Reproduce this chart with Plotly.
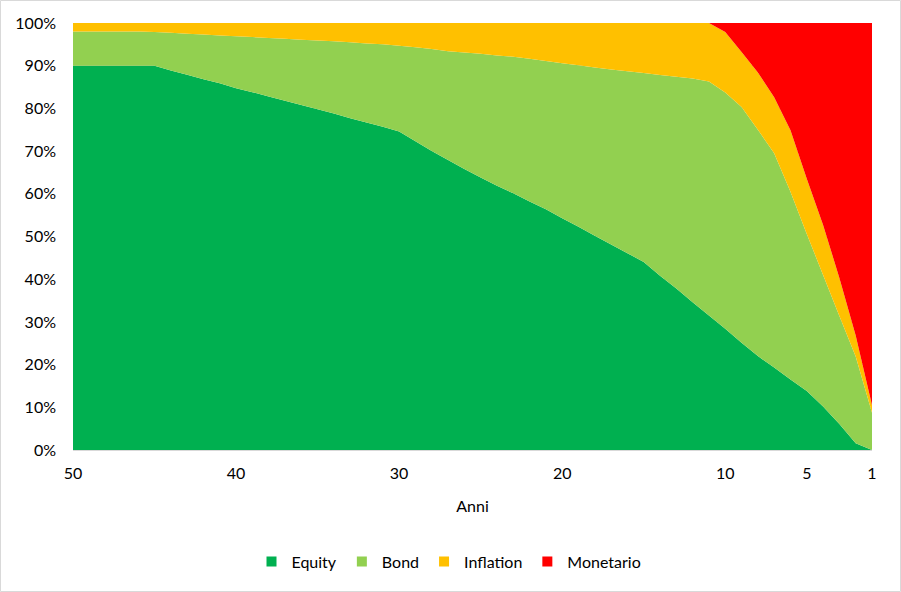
import plotly.graph_objects as go

years = list(range(50, 0, -1))

equity = [90, 90, 90, 90, 90, 90, 88.9, 87.9, 86.8, 85.9,
          84.7, 83.8, 82.8, 81.8, 80.8, 79.8, 78.8, 77.7, 76.7, 75.7,
          74.6, 72.3, 70.0, 67.9, 65.8, 63.8, 61.9, 60.1, 58.2, 56.4,
          54.3, 52.3, 50.2, 48.1, 46.1, 44.0, 40.8, 37.8, 34.6, 31.5,
          28.4, 25.1, 22.0, 19.3, 16.5, 13.8, 10.2, 6.1, 1.6, 0]

bond = [8, 8, 8, 8, 8, 7.9, 8.8, 9.6, 10.5, 11.2,
        12.2, 12.9, 13.7, 14.5, 15.3, 16.1, 16.9, 17.8, 18.5, 19.3,
        20.1, 22.0, 23.9, 25.5, 27.3, 29.0, 30.5, 32.0, 33.4, 34.7,
        36.3, 37.8, 39.4, 41.0, 42.6, 44.3, 47.0, 49.6, 52.4, 54.8,
        55.3, 55.2, 53.0, 50.2, 44.0, 36.8, 30.8, 25.3, 20.3, 8.7]

inflation = [2, 2, 2, 2, 2, 2.1, 2.3, 2.5, 2.7, 2.9,
             3.1, 3.3, 3.5, 3.7, 3.9, 4.1, 4.3, 4.5, 4.8, 5.0,
             5.3, 5.7, 6.1, 6.6, 6.9, 7.2, 7.6, 7.9, 8.4, 8.9,
             9.4, 9.9, 10.4, 10.9, 11.3, 11.7, 12.2, 12.6, 13.0, 13.7,
             14.2, 12.9, 13.4, 13.1, 14.4, 12.9, 11.7, 8.9, 4.9, 1.8]

monetario = [0] * 40 + [2.1, 6.8, 11.6, 17.4, 25.1, 36.5, 47.3, 59.7, 73.2, 89.5]

series_names = ["Equity", "Bond", "Inflation", "Monetario"]
series_colors = ["#00B050", "#92D050", "#FFC000", "#FF0000"]
series_values = [equity, bond, inflation, monetario]

x_ticks = [50, 40, 30, 20, 10, 5, 1]
y_ticks = list(range(0, 101, 10))

FONT = "Lato"
fig = go.Figure()

for name, color, vals in zip(series_names, series_colors, series_values):
    fig.add_trace(go.Scatter(
        x=years, y=vals, name=name, stackgroup="one", mode="none",
        fillcolor=color, showlegend=False, hoverinfo="x+y+name"))

for name, color in zip(series_names, series_colors):
    fig.add_trace(go.Scatter(
        x=[None], y=[None], name=name, mode="markers",
        marker=dict(symbol="square", size=10, color=color, line=dict(width=0)),
        showlegend=True))

W, H = 901, 592
L, R, T, B = 73, 29, 23, 142
pw, ph = W - L - R, H - T - B

fig.update_layout(
    width=W, height=H, autosize=False,
    margin=dict(l=L, r=R, t=T, b=B, pad=0, autoexpand=False),
    paper_bgcolor="white", plot_bgcolor="white",
    font=dict(family=FONT, size=16, color="#000000"),
    showlegend=True,
    legend=dict(orientation="h", traceorder="normal",
                xref="paper", x=(449 - L) / pw, xanchor="center",
                yref="paper", y=(450 - 561.5) / ph, yanchor="middle",
                font=dict(family=FONT, size=16, color="#000000"),
                itemwidth=30, tracegroupgap=0, bgcolor="rgba(0,0,0,0)"),
    xaxis=dict(range=[50, 1], tickmode="array", tickvals=x_ticks,
               ticktext=[str(v) for v in x_ticks],
               showgrid=False, zeroline=False, showline=True,
               linecolor="#D9D9D9", linewidth=1, ticks="",
               ticklabelstandoff=9,
               tickfont=dict(family=FONT, size=16, color="#000000"),
               title=dict(text="Anni", standoff=19,
                          font=dict(family=FONT, size=16, color="#000000"))),
    yaxis=dict(range=[0, 100], tickmode="array", tickvals=y_ticks,
               ticktext=[f"{v}%" for v in y_ticks],
               showgrid=True, gridcolor="#D9D9D9", gridwidth=1,
               zeroline=False, showline=False, ticks="",
               ticklabelstandoff=16,
               tickfont=dict(family=FONT, size=16, color="#000000")),
)

fig.add_shape(type="rect", xref="paper", yref="paper",
              x0=(0.5 - L) / pw, x1=(W - 0.5 - L) / pw,
              y0=(450 - (H - 0.5)) / ph, y1=(450 - 0.5) / ph,
              line=dict(color="#D9D9D9", width=1), fillcolor="rgba(0,0,0,0)",
              layer="below")

fig.write_html("out.html")
